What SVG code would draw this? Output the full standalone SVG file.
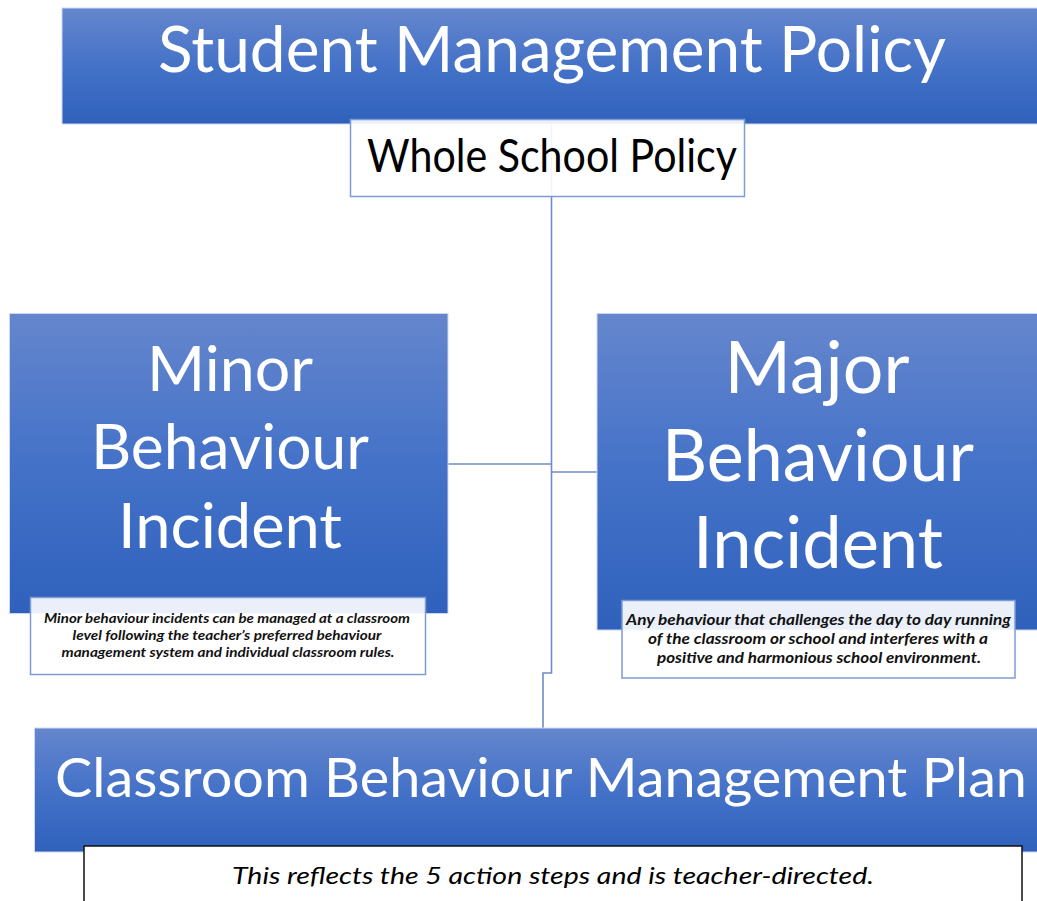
<svg xmlns="http://www.w3.org/2000/svg" width="1037" height="901" viewBox="0 0 1037 901">
  <defs>
    <linearGradient id="blueFill" x1="0" y1="0" x2="0" y2="1">
      <stop offset="0" stop-color="#6586cd"/>
      <stop offset="0.5" stop-color="#4472c8"/>
      <stop offset="1" stop-color="#2f61bc"/>
    </linearGradient>
  </defs>
  <style>
    .band { fill: url(#blueFill); stroke: #cdd8ef; stroke-width: 1; }
    .tag { fill: #ffffff; fill-opacity: 0.9; stroke: #7f9bd3; stroke-width: 1.5; }
    .note { fill: #ffffff; stroke: #111111; stroke-width: 1.5; }
    .head { font-family: Lato, "Open Sans", "DejaVu Sans", sans-serif; fill: #ffffff; text-anchor: middle; }
    .dark { font-family: Lato, "Open Sans", "DejaVu Sans", sans-serif; fill: #000000; text-anchor: middle; }
    .desc { font-family: Lato, "Open Sans", "DejaVu Sans", sans-serif; font-style: italic; font-weight: bold; fill: #111111; text-anchor: middle; }
    .link { fill: none; stroke: #6f8cc6; stroke-width: 1.6; }
  </style>

  <!-- connectors -->
  <g id="connectors">
    <path class="link" d="M551.5,124 V673 H543 V728"/>
    <path class="link" d="M448,464 H551.5"/>
    <path class="link" d="M551.5,472 H597"/>
  </g>

  <!-- top banner -->
  <g id="student-management-policy">
    <rect class="band" x="62" y="8" width="990" height="116"/>
    <text class="head" x="552" y="72" font-size="63" textLength="788" lengthAdjust="spacingAndGlyphs">Student Management Policy</text>
  </g>

  <g id="whole-school-policy">
    <rect class="tag" x="350.5" y="119.5" width="394" height="77"/>
    <text class="dark" x="552" y="172" font-size="47" textLength="370" lengthAdjust="spacingAndGlyphs">Whole School Policy</text>
  </g>

  <!-- minor incidents -->
  <g id="minor-behaviour-incident">
    <rect class="band" x="9.5" y="313.5" width="438.5" height="300"/>
    <text class="head" x="230" y="391" font-size="61" textLength="166" lengthAdjust="spacingAndGlyphs">Minor</text>
    <text class="head" x="230" y="469" font-size="61" textLength="278" lengthAdjust="spacingAndGlyphs">Behaviour</text>
    <text class="head" x="230" y="548" font-size="61" textLength="224" lengthAdjust="spacingAndGlyphs">Incident</text>
  </g>

  <g id="minor-description">
    <rect class="tag" x="30.5" y="597.5" width="395" height="77"/>
    <text class="desc" x="227" y="623" font-size="14" textLength="366" lengthAdjust="spacingAndGlyphs">Minor behaviour incidents can be managed at a classroom</text>
    <text class="desc" x="227" y="640" font-size="14" textLength="309" lengthAdjust="spacingAndGlyphs">level following the teacher’s preferred behaviour</text>
    <text class="desc" x="228" y="657" font-size="14" textLength="333" lengthAdjust="spacingAndGlyphs">management system and individual classroom rules.</text>
  </g>

  <!-- major incidents -->
  <g id="major-behaviour-incident">
    <rect class="band" x="597" y="313.5" width="450" height="316.5"/>
    <text class="head" x="817" y="393" font-size="71" textLength="185" lengthAdjust="spacingAndGlyphs">Major</text>
    <text class="head" x="818" y="481" font-size="71" textLength="312" lengthAdjust="spacingAndGlyphs">Behaviour</text>
    <text class="head" x="818" y="568" font-size="71" textLength="250" lengthAdjust="spacingAndGlyphs">Incident</text>
  </g>

  <g id="major-description">
    <rect class="tag" x="622" y="600.5" width="393" height="77.5"/>
    <text class="desc" x="818.5" y="625" font-size="15" textLength="385" lengthAdjust="spacingAndGlyphs">Any behaviour that challenges the day to day running</text>
    <text class="desc" x="818" y="644" font-size="15" textLength="340" lengthAdjust="spacingAndGlyphs">of the classroom or school and interferes with a</text>
    <text class="desc" x="819" y="663" font-size="15" textLength="324" lengthAdjust="spacingAndGlyphs">positive and harmonious school environment.</text>
  </g>

  <!-- classroom plan -->
  <g id="classroom-behaviour-management-plan">
    <rect class="band" x="34.5" y="728" width="1012" height="124"/>
    <text class="head" x="541" y="797" font-size="54" textLength="972" lengthAdjust="spacingAndGlyphs">Classroom Behaviour Management Plan</text>
  </g>

  <g id="classroom-note">
    <rect class="note" x="84" y="846" width="938" height="70"/>
    <text class="dark" x="553" y="884" font-size="23" font-style="italic" textLength="642" lengthAdjust="spacingAndGlyphs">This reflects the 5 action steps and is teacher-directed.</text>
  </g>
</svg>
